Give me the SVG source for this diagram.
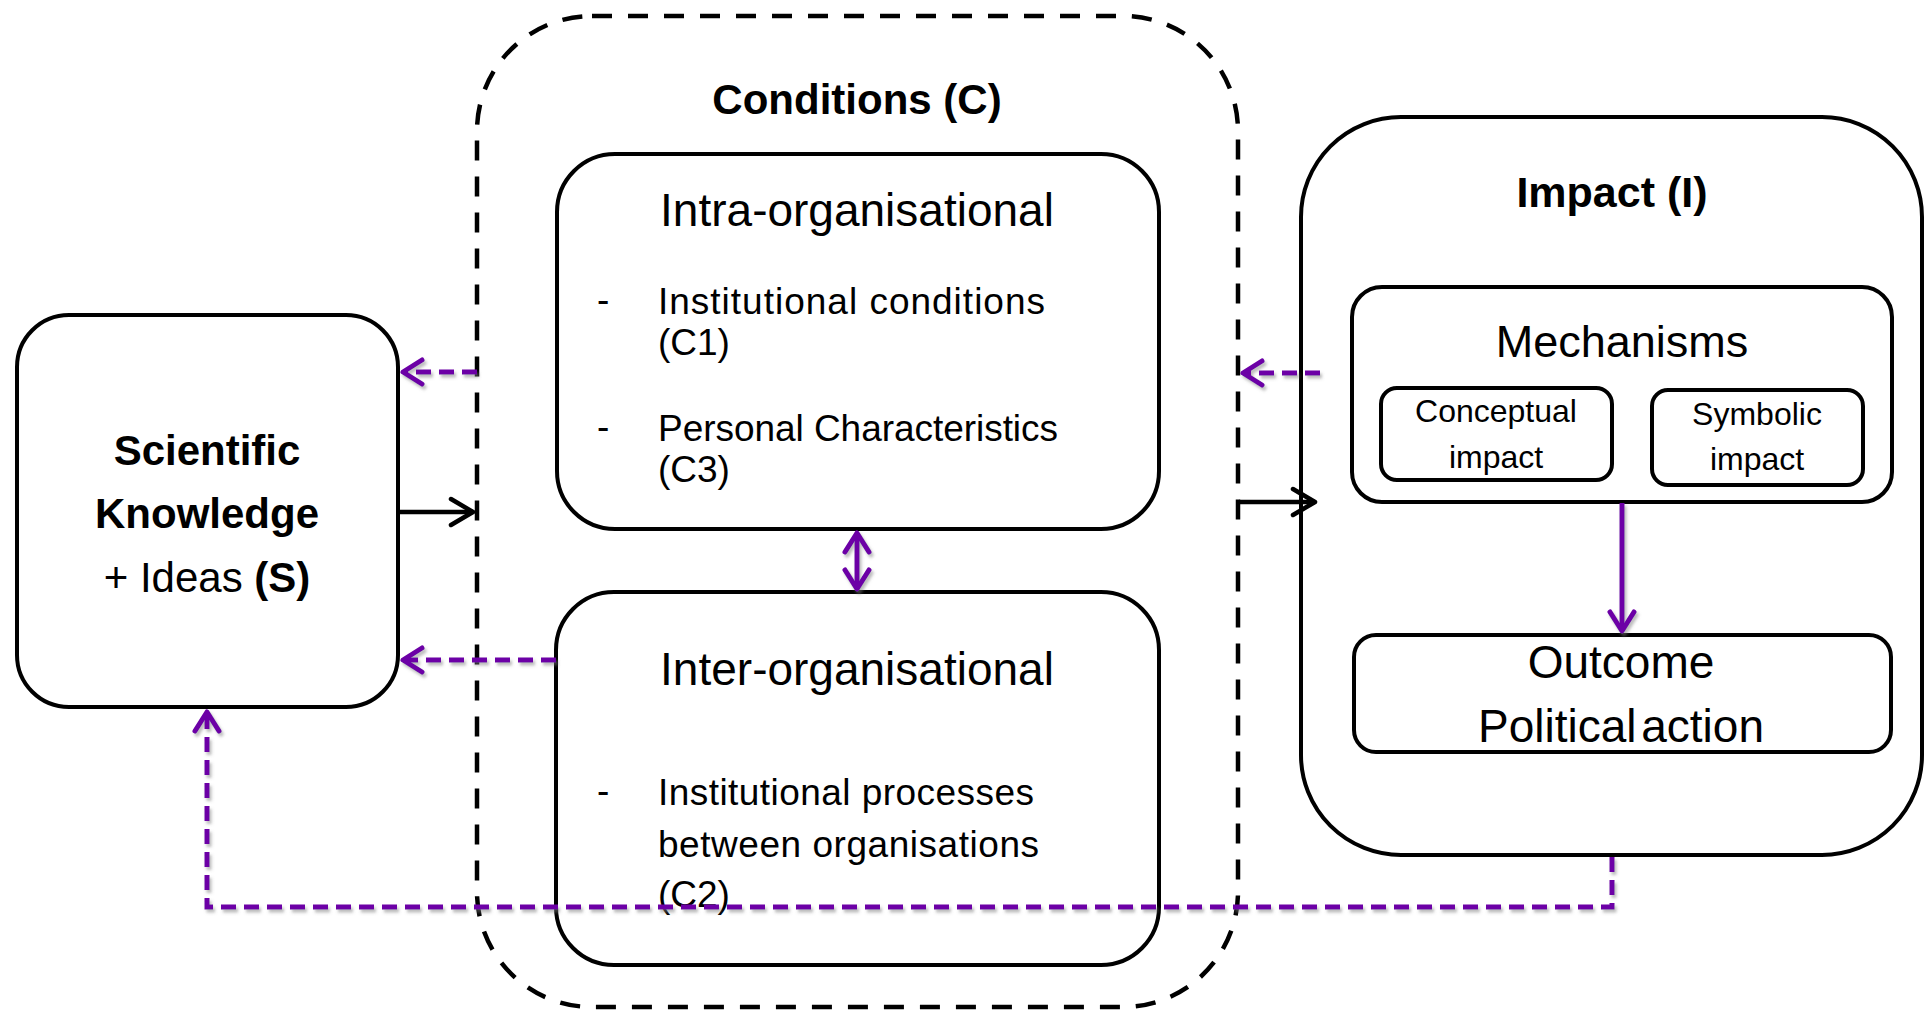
<svg xmlns="http://www.w3.org/2000/svg" width="1925" height="1011" viewBox="0 0 1925 1011">
<defs>
<style>
text{font-family:"Liberation Sans",Arial,sans-serif;fill:#000}
.box{fill:#fff;stroke:#000;stroke-width:4}
.b{font-weight:bold}
.big{font-size:42px}
.mid{font-size:46px}
.lst{font-size:37px}
.sm{font-size:32px}
.blk{fill:none;stroke:#000;stroke-width:4.5}
.pur{fill:none;stroke:#6C00A6;stroke-width:5}
.pd{stroke-dasharray:15 8}
</style>
<filter id="sh" x="-5%" y="-5%" width="110%" height="110%">
<feDropShadow dx="2" dy="3" stdDeviation="1.5" flood-color="#777" flood-opacity="0.5"/>
</filter>
<marker id="ab" markerUnits="userSpaceOnUse" markerWidth="40" markerHeight="40" viewBox="-30 -20 40 40" refX="0" refY="0" orient="auto">
<path d="M-22,-13 L0,0 L-22,13" fill="none" stroke="#000" stroke-width="4.5" stroke-linecap="round" stroke-linejoin="round"/>
</marker>
<marker id="ap" markerUnits="userSpaceOnUse" markerWidth="40" markerHeight="40" viewBox="-30 -20 40 40" refX="0" refY="0" orient="auto-start-reverse">
<path d="M-19,-12 L0,0 L-19,12" fill="none" stroke="#6C00A6" stroke-width="5" stroke-linecap="round" stroke-linejoin="round" stroke-dasharray="none"/>
</marker>
</defs>
<rect width="1925" height="1011" fill="#fff"/>

<g id="conditions">
<rect x="477" y="16" width="761" height="991" rx="115" ry="115" fill="none" stroke="#000" stroke-width="4.5" stroke-dasharray="20 16"/>
<text class="b big" x="857" y="114" text-anchor="middle">Conditions (C)</text>
</g>

<g id="scientific-knowledge">
<rect class="box" x="17" y="315" width="381" height="392" rx="52" ry="52"/>
<text class="b big" x="207" y="465" text-anchor="middle">Scientific</text>
<text class="b big" x="207" y="528" text-anchor="middle">Knowledge</text>
<text class="big" x="207" y="592" text-anchor="middle">+ Ideas <tspan class="b">(S)</tspan></text>
</g>

<g id="intra-organisational">
<rect class="box" x="557" y="154" width="602" height="375" rx="58" ry="58"/>
<text class="mid" x="857" y="226" text-anchor="middle">Intra-organisational</text>
<text class="lst" x="597" y="312">-</text>
<text class="lst" x="658" y="314" textLength="387" lengthAdjust="spacing">Institutional conditions</text>
<text class="lst" x="658" y="355">(C1)</text>
<text class="lst" x="597" y="439">-</text>
<text class="lst" x="658" y="441" textLength="400" lengthAdjust="spacing">Personal Characteristics</text>
<text class="lst" x="658" y="482">(C3)</text>
</g>

<g id="inter-organisational">
<rect class="box" x="556" y="592" width="603" height="373" rx="58" ry="58"/>
<text class="mid" x="857" y="685" text-anchor="middle">Inter-organisational</text>
<text class="lst" x="597" y="803">-</text>
<text class="lst" x="658" y="805" textLength="376" lengthAdjust="spacing">Institutional processes</text>
<text class="lst" x="658" y="857" textLength="381" lengthAdjust="spacing">between organisations</text>
<text class="lst" x="658" y="907">(C2)</text>
</g>

<g id="impact">
<rect class="box" x="1301" y="117" width="621" height="738" rx="100" ry="100"/>
<text class="b" x="1612" y="207" text-anchor="middle" font-size="43">Impact (I)</text>
</g>

<g id="mechanisms">
<rect class="box" x="1352" y="287" width="540" height="215" rx="30" ry="30"/>
<text x="1622" y="357" text-anchor="middle" font-size="45">Mechanisms</text>
</g>

<g id="conceptual-impact">
<rect class="box" x="1381" y="388" width="231" height="92" rx="16" ry="16"/>
<text class="sm" x="1496" y="422" text-anchor="middle">Conceptual</text>
<text class="sm" x="1496" y="468" text-anchor="middle">impact</text>
</g>

<g id="symbolic-impact">
<rect class="box" x="1652" y="390" width="211" height="95" rx="16" ry="16"/>
<text class="sm" x="1757" y="425" text-anchor="middle">Symbolic</text>
<text class="sm" x="1757" y="470" text-anchor="middle">impact</text>
</g>

<g id="outcome">
<rect class="box" x="1354" y="635" width="537" height="117" rx="22" ry="22"/>
<text class="mid" x="1621" y="678" text-anchor="middle">Outcome</text>
<text class="mid" x="1621" y="742" text-anchor="middle" word-spacing="-8">Political action</text>
</g>

<g id="connectors">
<line class="blk" x1="399" y1="512" x2="473" y2="512" marker-end="url(#ab)"/>
<line class="blk" x1="1239" y1="502" x2="1315" y2="502" marker-end="url(#ab)"/>
<g filter="url(#sh)">
<line class="pur" x1="857" y1="533" x2="857" y2="589" marker-start="url(#ap)" marker-end="url(#ap)"/>
<line class="pur" x1="1622" y1="503" x2="1622" y2="631" marker-end="url(#ap)"/>
<line class="pur pd" x1="477" y1="372" x2="403" y2="372" marker-end="url(#ap)"/>
<line class="pur pd" x1="556" y1="660" x2="403" y2="660" marker-end="url(#ap)"/>
<line class="pur pd" x1="1320" y1="373" x2="1243" y2="373" marker-end="url(#ap)"/>
<polyline class="pur pd" points="1612,857 1612,907 207,907 207,712" marker-end="url(#ap)"/>
</g>
</g>
</svg>
